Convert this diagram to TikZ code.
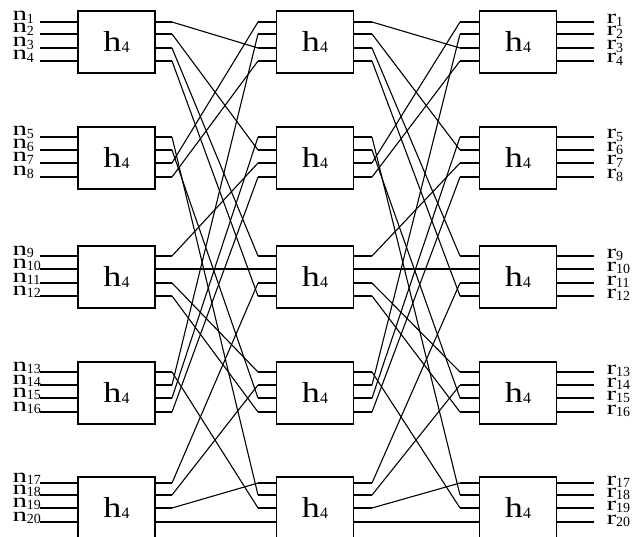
\documentclass[tikz,border=0pt]{standalone}
\usepackage{fontspec}
\setmainfont{Liberation Serif}
\newfontfamily\labfont[FakeStretch=1.45]{Liberation Serif}
\newfontfamily\boxfont[FakeStretch=1.25]{Liberation Serif}
% port label: letter with a lowered index
\newcommand\portlab[2]{{\fontsize{20}{20}\labfont #1}\raisebox{-0.3em}{\fontsize{14}{14}\selectfont #2}}
% block label h with index 4
\newcommand\boxlab{{\fontsize{29}{29}\boxfont h}\raisebox{-0.1em}{\fontsize{16}{16}\selectfont 4}}
\begin{document}
\begin{tikzpicture}[x=1bp,y=-1bp,line width=1.1bp,
  hbox/.style={draw,minimum width=77bp,minimum height=62bp,inner sep=0pt},
  plab/.style={anchor=base west,inner sep=0pt}]
\useasboundingbox (0,0) rectangle (635,537);
\def\ys{{22,34,48,61,137,150,163,177,256,269,283,296,372,385,398,412,483,495,508,522}}
% the fifteen h4 blocks
\foreach \c/\x in {1/116.5,2/315,3/518}
  \foreach \b/\y in {1/42,2/158,3/277,4/393,5/508}
    \node[hbox] (B\c\b) at (\x,\y) {\boxlab};
% port stubs and their end points
\foreach \k in {0,...,19} {
  \pgfmathsetmacro\y{\ys[\k]}
  \pgfmathtruncatemacro\num{\k+1}
  \coordinate (ni\k) at (40,\y);
  \coordinate (c1l\k) at (78,\y);
  \coordinate (c1r\k) at (155,\y);
  \coordinate (c1o\k) at (172,\y);
  \coordinate (c2i\k) at (258,\y);
  \coordinate (c2l\k) at (276.5,\y);
  \coordinate (c2r\k) at (353.5,\y);
  \coordinate (c2o\k) at (372,\y);
  \coordinate (c3i\k) at (460,\y);
  \coordinate (c3l\k) at (479.5,\y);
  \coordinate (c3r\k) at (556.5,\y);
  \coordinate (ro\k) at (594,\y);
  \draw (ni\k) -- (c1l\k);
  \draw (c1r\k) -- (c1o\k);
  \draw (c2i\k) -- (c2l\k);
  \draw (c2r\k) -- (c2o\k);
  \draw (c3i\k) -- (c3l\k);
  \draw (c3r\k) -- (ro\k);
  \node[plab] (nl\k) at (12,\y-1) {\portlab{n}{\num}};
  \node[plab] (rl\k) at (606,\y+2) {\portlab{r}{\num}};
}
% wiring between the stages (same permutation twice)
\foreach \s/\d in {0/2,1/5,2/8,3/11,4/17,5/14,6/0,7/3,8/6,9/9,10/12,11/15,12/18,13/1,14/4,15/7,16/10,17/13,18/16,19/19} {
  \draw (c1o\s) -- (c2i\d);
  \draw (c2o\s) -- (c3i\d);
}
\end{tikzpicture}
\end{document}
